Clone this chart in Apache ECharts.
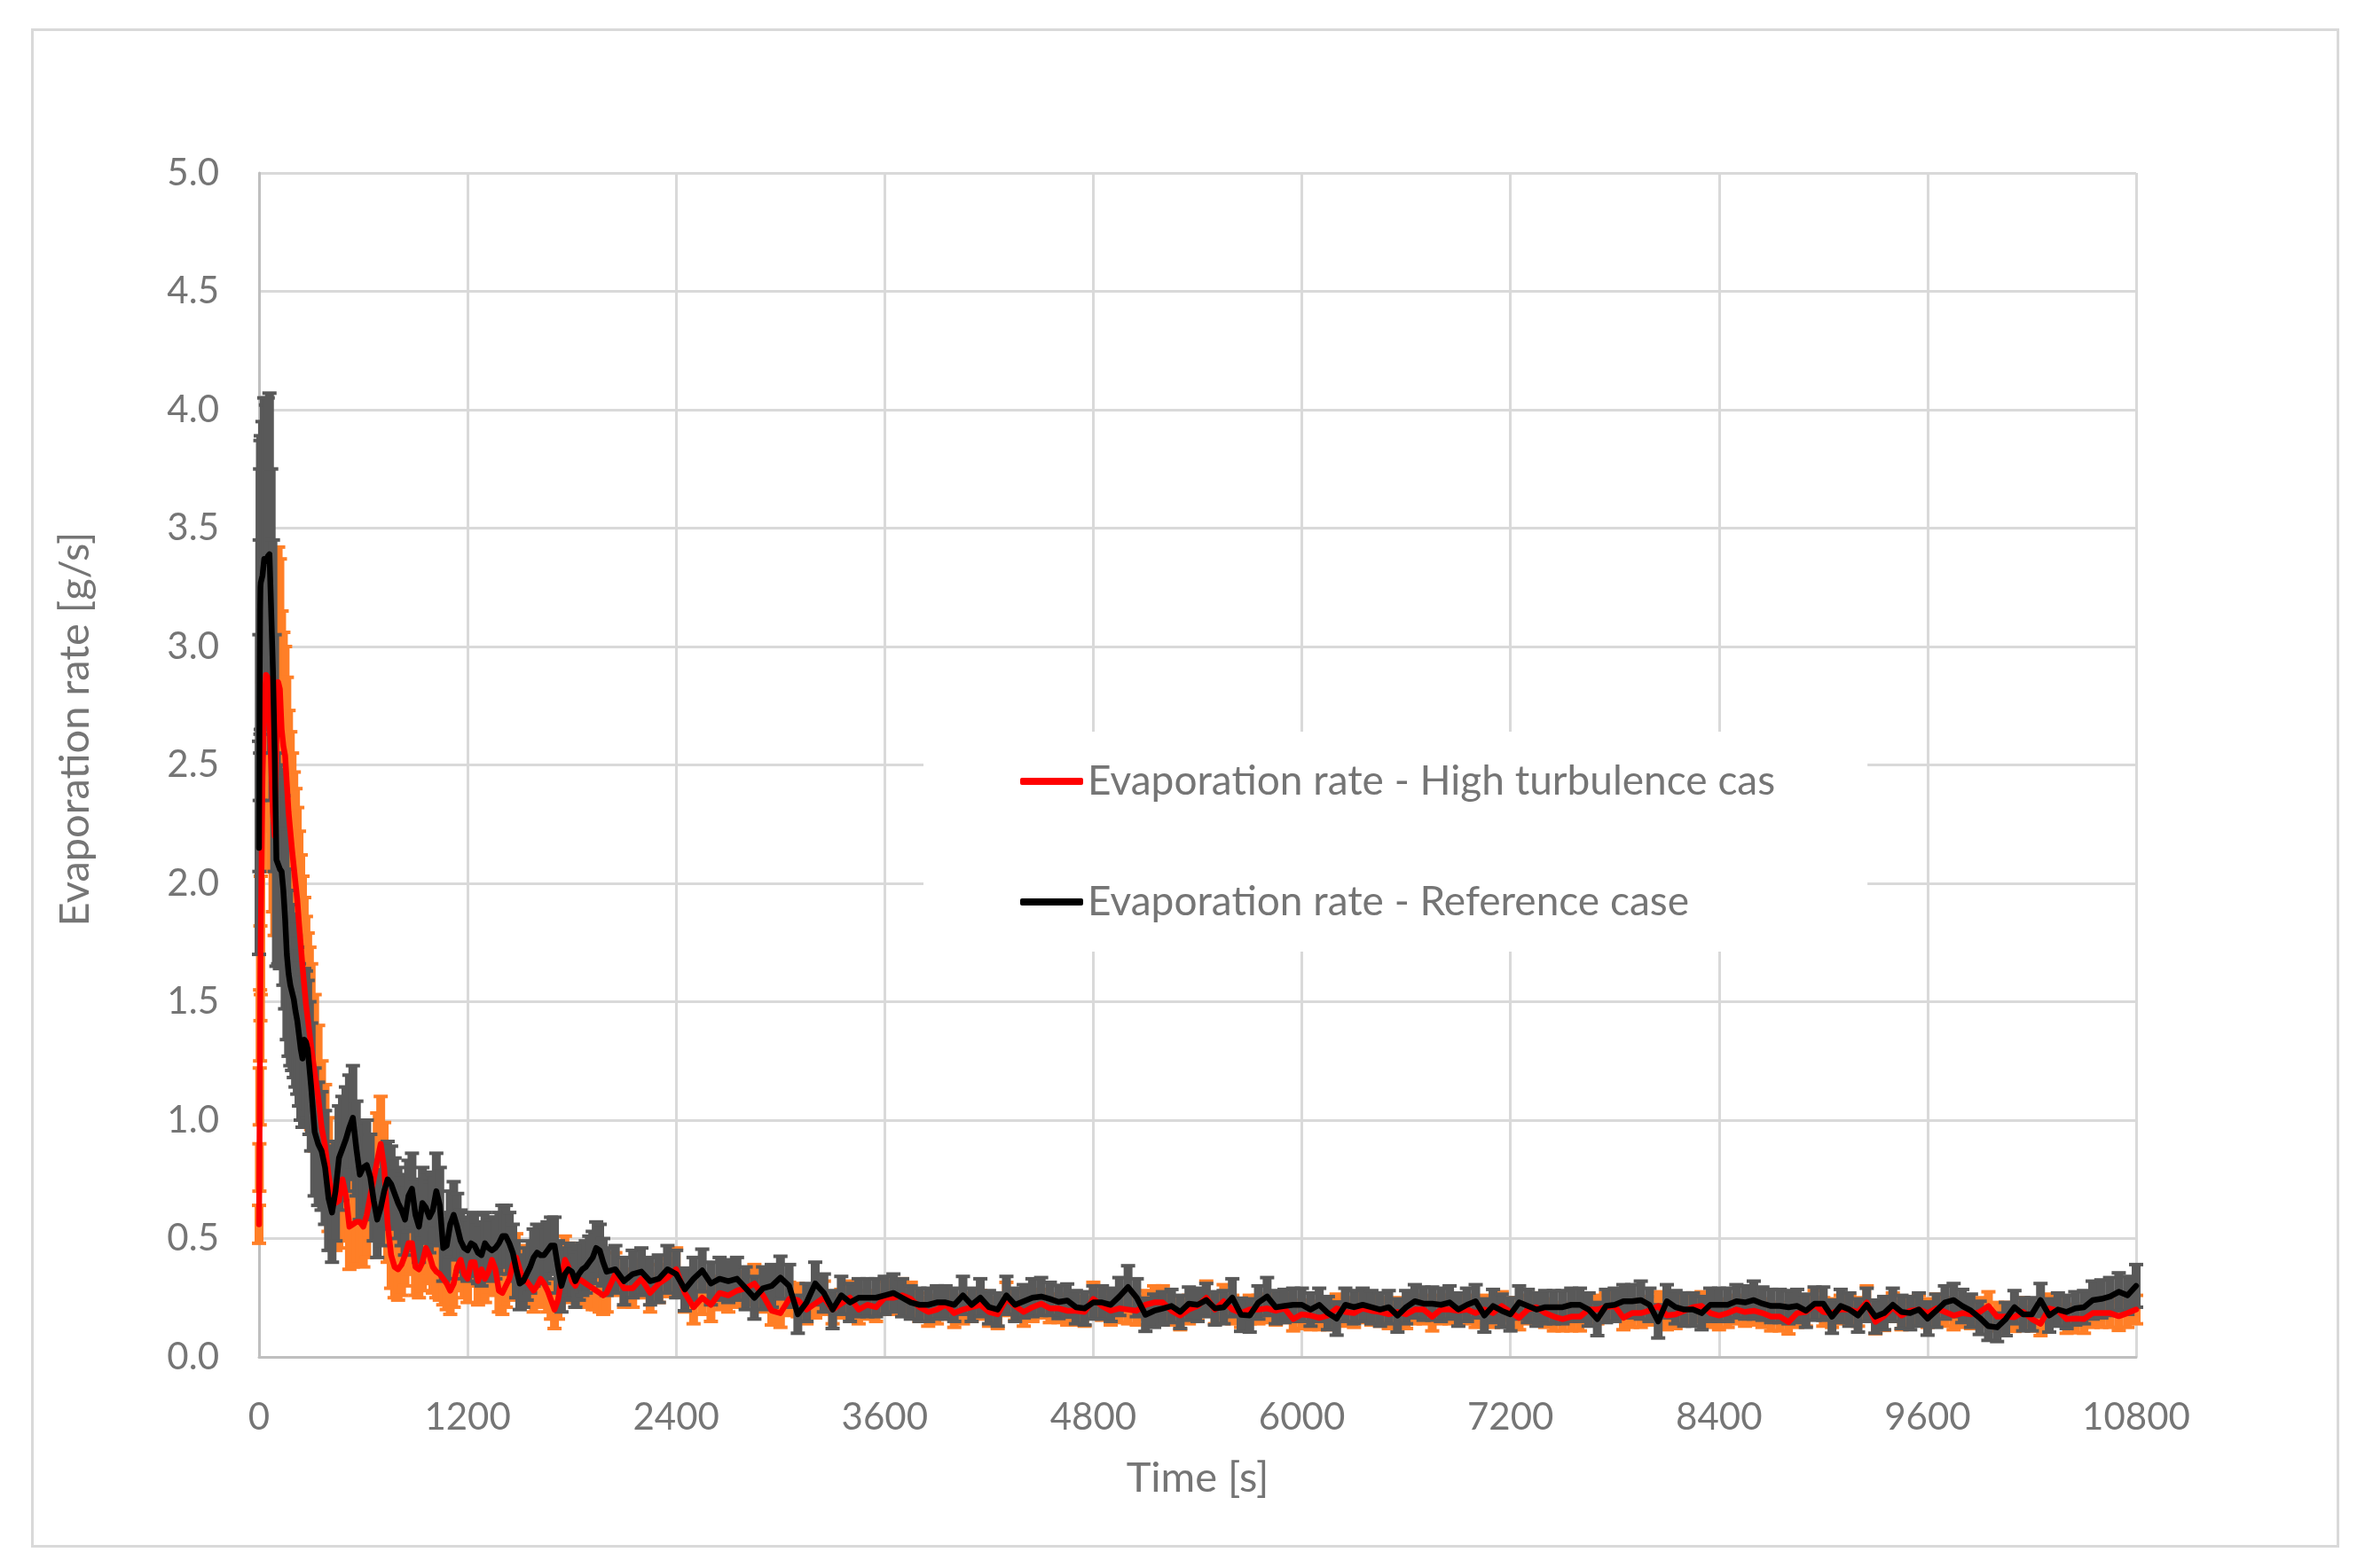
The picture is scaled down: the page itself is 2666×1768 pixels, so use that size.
<!DOCTYPE html>
<html>
<head>
<meta charset="utf-8">
<script src="https://cdn.jsdelivr.net/npm/echarts@6/dist/echarts.min.js"></script>
<style>
html,body{margin:0;padding:0;background:#fff;}
#chart{width:2666px;height:1768px;}
</style>
</head>
<body>
<div id="chart"></div>
<script>
// Time stamps [s]
const times = [
0,2,4,6,8,10,20,30,40,50,60,70,80,90,100,110,120,130,140,150,160,170,180,190,200,210,220,230,240,250,260,270,280,290,300,
320,340,360,380,400,420,440,460,480,500,520,540,560,580,600,620,640,660,680,700,
720,740,760,780,800,820,840,860,880,900,920,940,960,980,1000,1020,1040,1060,1080,1100,
1120,1140,1160,1180,1200,1220,1240,1260,1280,1300,1320,1340,1360,1380,1400,1420,1440,1460,1480,1500,
1520,1540,1560,1580,1600,1620,1640,1660,1680,1700,1720,1740,1760,1780,1800,1820,1840,1860,1880,1900,
1920,1940,1960,1980,2000,
2050,2100,2150,2200,2250,2300,2350,2400,2450,2500,2550,2600,2650,2700,2750,2800,2850,2900,2950,3000,
3050,3100,3150,3200,3250,3300,3350,3400,3450,3500,3550,3600,3650,3700,3750,3800,3850,3900,3950,4000,
4050,4100,4150,4200,4250,4300,4350,4400,4450,4500,4550,4600,4650,4700,4750,4800,4850,4900,4950,5000,
5050,5100,5150,5200,5250,5300,5350,5400,5450,5500,5550,5600,5650,5700,5750,5800,5850,5900,5950,6000,
6050,6100,6150,6200,6250,6300,6350,6400,6450,6500,6550,6600,6650,6700,6750,6800,6850,6900,6950,7000,
7050,7100,7150,7200,7250,7300,7350,7400,7450,7500,7550,7600,7650,7700,7750,7800,7850,7900,7950,8000,
8050,8100,8150,8200,8250,8300,8350,8400,8450,8500,8550,8600,8650,8700,8750,8800,8850,8900,8950,9000,
9050,9100,9150,9200,9250,9300,9350,9400,9450,9500,9550,9600,9650,9700,9750,9800,9850,9900,9950,10000,
10050,10100,10150,10200,10250,10300,10350,10400,10450,10500,10550,10600,10650,10700,10750,10800
];

// Evaporation rate - High turbulence case [g/s]
const highRate = [
0.56,0.80,1.10,1.40,1.62,1.78,2.45,2.75,2.88,2.87,2.70,2.50,2.30,2.20,2.60,2.85,2.82,2.65,2.58,2.54,2.42,2.30,2.22,2.14,2.07,2.00,1.93,1.83,1.74,1.65,1.57,1.49,1.43,1.37,1.31,
1.20,1.10,0.97,0.89,0.77,0.68,0.65,0.66,0.75,0.68,
0.55,0.56,0.57,0.57,0.55,0.60,0.68,0.75,0.83,0.90,
0.80,0.56,0.43,0.38,0.37,0.39,0.43,0.48,0.48,0.38,
0.37,0.40,0.46,0.43,0.38,0.36,0.35,0.33,0.31,0.28,
0.31,0.38,0.41,0.35,0.33,0.40,0.40,0.32,0.37,0.33,
0.36,0.41,0.37,0.28,0.27,0.30,0.33,0.39,0.42,0.37,
0.32,0.32,0.30,0.28,0.30,0.33,0.31,0.28,0.24,0.20,
0.24,0.33,0.41,0.38,0.32,0.30,0.33,0.32,0.31,0.30,
0.29,0.28,0.27,0.26,0.27,
0.35,0.29,0.29,0.33,0.27,0.31,0.335,0.37,0.27,0.21,
0.25,0.22,0.27,0.26,0.28,0.29,0.31,0.26,0.195,0.185,
0.245,0.24,0.20,0.225,0.25,0.20,0.225,0.25,0.20,0.22,
0.21,0.25,0.25,0.26,0.245,0.21,0.19,0.20,0.22,0.185,
0.20,0.21,0.22,0.19,0.18,0.245,0.215,0.19,0.21,0.225,
0.205,0.205,0.195,0.195,0.19,0.245,0.215,0.195,0.205,0.20,
0.195,0.22,0.23,0.23,0.195,0.175,0.20,0.215,0.25,0.20,
0.235,0.20,0.185,0.20,0.20,0.205,0.195,0.205,0.16,0.18,
0.175,0.165,0.175,0.205,0.19,0.185,0.205,0.195,0.19,0.18,
0.19,0.18,0.20,0.20,0.17,0.20,0.20,0.195,0.20,0.185,
0.20,0.185,0.215,0.19,0.165,0.20,0.21,0.185,0.17,0.16,
0.17,0.17,0.20,0.20,0.21,0.215,0.165,0.185,0.185,0.195,
0.215,0.175,0.18,0.195,0.21,0.215,0.185,0.175,0.185,0.20,
0.19,0.195,0.185,0.17,0.17,0.147,0.185,0.19,0.22,0.19,
0.185,0.20,0.20,0.19,0.23,0.148,0.172,0.21,0.175,0.195,
0.20,0.185,0.205,0.19,0.175,0.185,0.18,0.19,0.215,0.17,
0.17,0.168,0.19,0.16,0.14,0.205,0.195,0.16,0.162,0.16,
0.185,0.185,0.185,0.172,0.185,0.20
];
const highErr = [
0.08,0.10,0.12,0.15,0.20,0.25,0.40,0.48,0.50,0.50,0.48,0.45,0.42,0.42,0.50,0.57,0.55,0.50,0.48,0.46,0.45,0.43,0.42,0.41,0.40,0.40,0.39,0.39,0.38,0.38,0.37,0.37,0.36,0.36,0.35,
0.33,0.30,0.28,0.26,0.24,0.22,0.20,0.20,0.20,0.19,
0.18,0.18,0.18,0.18,0.17,0.18,0.18,0.19,0.20,0.20,
0.19,0.16,0.14,0.13,0.13,0.13,0.13,0.13,0.13,0.12,
0.12,0.12,0.12,0.12,0.11,0.11,0.11,0.11,0.11,0.10,
0.10,0.10,0.10,0.10,0.10,0.10,0.10,0.10,0.10,0.10,
0.10,0.10,0.10,0.09,0.09,0.09,0.09,0.10,0.10,0.10,
0.09,0.09,0.09,0.09,0.09,0.09,0.09,0.09,0.08,0.08,
0.08,0.09,0.10,0.10,0.09,0.09,0.09,0.09,0.09,0.09,
0.09,0.08,0.08,0.08,0.08,
0.09,0.08,0.08,0.08,0.08,0.08,0.08,0.09,0.08,0.07,
0.07,0.07,0.07,0.07,0.07,0.07,0.08,0.07,0.06,0.06,
0.07,0.07,0.06,0.06,0.07,0.06,0.06,0.07,0.06,0.06,
0.06,0.07,0.07,0.07,0.07,0.06,0.06,0.06,0.06,0.06,
0.06,0.06,0.06,0.06,0.06,0.07,0.06,0.06,0.06,0.06,
0.06,0.06,0.06,0.06,0.06,0.07,0.06,0.06,0.06,0.06,
0.06,0.06,0.07,0.07,0.06,0.06,0.06,0.06,0.07,0.06,
0.07,0.06,0.06,0.06,0.06,0.06,0.06,0.06,0.05,0.06,
0.06,0.05,0.06,0.06,0.06,0.06,0.06,0.06,0.06,0.06,
0.06,0.06,0.06,0.06,0.06,0.06,0.06,0.06,0.06,0.06,
0.06,0.06,0.06,0.06,0.05,0.06,0.06,0.06,0.06,0.05,
0.06,0.06,0.06,0.06,0.06,0.06,0.05,0.06,0.06,0.06,
0.06,0.06,0.06,0.06,0.06,0.06,0.06,0.06,0.06,0.06,
0.06,0.06,0.06,0.06,0.06,0.05,0.06,0.06,0.06,0.06,
0.06,0.06,0.06,0.06,0.07,0.05,0.06,0.06,0.06,0.06,
0.06,0.06,0.06,0.06,0.06,0.06,0.06,0.06,0.06,0.06,
0.06,0.06,0.06,0.05,0.05,0.06,0.06,0.06,0.06,0.06,
0.06,0.06,0.06,0.06,0.06,0.06
];

// Evaporation rate - Reference case [g/s]
const refRate = [
2.15,2.55,2.90,3.15,3.25,3.27,3.30,3.37,3.36,3.38,3.39,3.15,2.90,2.55,2.10,2.08,2.06,2.05,1.97,1.85,1.70,1.62,1.57,1.54,1.51,1.46,1.42,1.36,1.30,1.26,1.34,1.33,1.30,1.22,1.14,
0.95,0.90,0.87,0.80,0.67,0.61,0.70,0.84,0.88,0.92,
0.97,1.01,0.88,0.77,0.80,0.81,0.76,0.66,0.58,0.63,
0.70,0.75,0.73,0.69,0.65,0.62,0.58,0.68,0.71,0.60,
0.55,0.65,0.63,0.59,0.62,0.70,0.64,0.46,0.47,0.56,
0.60,0.55,0.49,0.46,0.45,0.48,0.47,0.44,0.43,0.48,
0.46,0.45,0.46,0.48,0.51,0.51,0.48,0.44,0.37,0.31,
0.32,0.35,0.38,0.42,0.44,0.43,0.43,0.45,0.47,0.47,
0.38,0.30,0.35,0.37,0.36,0.32,0.35,0.37,0.38,0.40,
0.42,0.46,0.45,0.40,0.36,
0.37,0.32,0.35,0.36,0.32,0.33,0.37,0.35,0.285,0.33,
0.365,0.31,0.33,0.32,0.33,0.29,0.25,0.29,0.30,0.335,
0.30,0.18,0.23,0.31,0.27,0.20,0.26,0.23,0.25,0.25,
0.25,0.26,0.27,0.25,0.23,0.22,0.22,0.23,0.23,0.22,
0.26,0.22,0.25,0.21,0.20,0.26,0.22,0.235,0.25,0.255,
0.245,0.232,0.238,0.21,0.205,0.23,0.23,0.22,0.255,0.295,
0.25,0.178,0.195,0.205,0.215,0.19,0.225,0.22,0.24,0.205,
0.21,0.25,0.178,0.175,0.23,0.255,0.21,0.215,0.22,0.22,
0.20,0.22,0.185,0.162,0.22,0.21,0.22,0.21,0.20,0.21,
0.175,0.21,0.235,0.225,0.225,0.22,0.23,0.20,0.22,0.235,
0.175,0.215,0.195,0.18,0.23,0.215,0.20,0.21,0.21,0.21,
0.22,0.22,0.20,0.16,0.215,0.22,0.235,0.235,0.24,0.22,
0.15,0.235,0.21,0.20,0.20,0.185,0.22,0.22,0.22,0.235,
0.23,0.24,0.225,0.215,0.215,0.21,0.215,0.195,0.225,0.225,
0.17,0.215,0.20,0.175,0.22,0.17,0.185,0.22,0.19,0.185,
0.20,0.162,0.195,0.23,0.24,0.215,0.195,0.165,0.13,0.125,
0.16,0.21,0.18,0.18,0.24,0.175,0.20,0.19,0.205,0.21,
0.24,0.245,0.255,0.275,0.26,0.30
];
const refErr = [
0.45,0.50,0.55,0.60,0.62,0.62,0.65,0.68,0.66,0.67,0.68,0.60,0.55,0.50,0.45,0.42,0.42,0.40,0.40,0.38,0.36,0.35,0.34,0.33,0.33,0.32,0.31,0.30,0.30,0.29,0.30,0.30,0.29,0.28,0.27,
0.27,0.26,0.25,0.24,0.22,0.21,0.21,0.22,0.22,0.22,
0.22,0.22,0.20,0.19,0.19,0.19,0.18,0.17,0.16,0.16,
0.16,0.16,0.16,0.15,0.15,0.15,0.15,0.15,0.15,0.15,
0.15,0.15,0.15,0.15,0.15,0.16,0.16,0.14,0.14,0.14,
0.14,0.14,0.13,0.13,0.13,0.13,0.13,0.13,0.13,0.13,
0.13,0.13,0.13,0.13,0.13,0.13,0.13,0.12,0.12,0.11,
0.11,0.11,0.11,0.12,0.12,0.12,0.12,0.12,0.12,0.12,
0.11,0.11,0.11,0.11,0.11,0.11,0.11,0.11,0.11,0.11,
0.11,0.11,0.11,0.10,0.10,
0.10,0.10,0.10,0.10,0.10,0.10,0.10,0.10,0.09,0.09,
0.09,0.09,0.09,0.09,0.09,0.09,0.09,0.09,0.09,0.09,
0.09,0.08,0.08,0.09,0.08,0.08,0.08,0.08,0.08,0.08,
0.08,0.08,0.08,0.08,0.07,0.07,0.07,0.07,0.07,0.07,
0.08,0.07,0.08,0.07,0.07,0.08,0.07,0.07,0.08,0.08,
0.07,0.07,0.07,0.07,0.07,0.07,0.07,0.07,0.08,0.09,
0.08,0.07,0.07,0.07,0.07,0.07,0.07,0.07,0.07,0.07,
0.07,0.08,0.07,0.07,0.07,0.08,0.07,0.07,0.07,0.07,
0.07,0.07,0.07,0.07,0.07,0.07,0.07,0.07,0.07,0.07,
0.07,0.07,0.07,0.07,0.07,0.07,0.07,0.07,0.07,0.07,
0.07,0.07,0.07,0.07,0.07,0.07,0.07,0.07,0.07,0.07,
0.07,0.07,0.07,0.07,0.07,0.07,0.07,0.07,0.08,0.07,
0.07,0.07,0.07,0.07,0.07,0.07,0.07,0.07,0.07,0.07,
0.07,0.08,0.07,0.07,0.07,0.07,0.07,0.07,0.07,0.07,
0.07,0.07,0.07,0.07,0.07,0.07,0.07,0.07,0.07,0.07,
0.07,0.07,0.07,0.07,0.07,0.07,0.07,0.07,0.06,0.06,
0.07,0.07,0.07,0.07,0.07,0.07,0.07,0.07,0.07,0.07,
0.08,0.08,0.08,0.08,0.08,0.09
];

const seriesNames = ['Evaporation rate - High turbulence cas', 'Evaporation rate - Reference case'];
const xTitle = 'Time [s]';
const yTitle = 'Evaporation rate [g/s]';

const FONT = 'Lato';
const TXT = '#757575';

function lineData(vals) { return times.map((t, i) => [t, vals[i]]); }
function barData(vals, errs) { return times.map((t, i) => [t, vals[i] - errs[i], vals[i] + errs[i]]); }

function errorBars(color) {
  return function (params, api) {
    const x = api.value(0);
    const lo = api.coord([x, api.value(1)]);
    const hi = api.coord([x, api.value(2)]);
    const half = 8;
    return {
      type: 'group',
      children: [
        { type: 'line', shape: { x1: hi[0], y1: hi[1], x2: lo[0], y2: lo[1] }, style: { stroke: color, lineWidth: 10 } },
        { type: 'line', shape: { x1: hi[0] - half, y1: hi[1], x2: hi[0] + half, y2: hi[1] }, style: { stroke: color, lineWidth: 4 } },
        { type: 'line', shape: { x1: lo[0] - half, y1: lo[1], x2: lo[0] + half, y2: lo[1] }, style: { stroke: color, lineWidth: 4 } }
      ]
    };
  };
}

const chart = echarts.init(document.getElementById('chart'), null, { renderer: 'canvas' });
chart.setOption({
  animation: false,
  backgroundColor: '#ffffff',
  grid: { left: 292, right: 258, top: 195, bottom: 238, containLabel: false },
  graphic: [
    { type: 'rect', left: 34, top: 31, shape: { width: 2599, height: 1710 }, style: { fill: 'none', stroke: '#d9d9d9', lineWidth: 3 }, silent: true, z: -1 },
    { type: 'text', x: 85, y: 822, rotation: Math.PI / 2, style: { text: yTitle, fontSize: 47, fontFamily: FONT, fill: TXT, align: 'center', verticalAlign: 'middle' } },
    { type: 'text', x: 1350, y: 1667, style: { text: xTitle, fontSize: 47, fontFamily: FONT, fill: TXT, align: 'center', verticalAlign: 'middle' } }
  ],
  legend: {
    data: seriesNames,
    orient: 'vertical',
    left: 1041,
    top: 825,
    padding: [31, 104, 31, 109],
    backgroundColor: '#ffffff',
    itemGap: 86,
    itemWidth: 71,
    itemHeight: 8,
    icon: 'roundRect',
    textStyle: { fontSize: 46, lineHeight: 50, fontFamily: FONT, color: TXT },
    selectedMode: false
  },
  xAxis: {
    type: 'value',
    min: 0, max: 10800, interval: 1200,
    axisLine: { show: true, lineStyle: { color: '#bfbfbf', width: 3 } },
    axisTick: { show: false },
    axisLabel: { fontSize: 42, lineHeight: 42, fontFamily: FONT, color: TXT, margin: 47, formatter: v => String(v) },
    splitLine: { show: true, lineStyle: { color: '#d9d9d9', width: 3 } }
  },
  yAxis: {
    type: 'value',
    min: 0, max: 5, interval: 0.5,
    axisLine: { show: true, lineStyle: { color: '#bfbfbf', width: 3 } },
    axisTick: { show: false },
    axisLabel: { fontSize: 42, fontFamily: FONT, color: TXT, margin: 45, formatter: v => v.toFixed(1) },
    splitLine: { show: true, lineStyle: { color: '#d9d9d9', width: 3 } }
  },
  series: [
    { name: seriesNames[0] + ' error', type: 'custom', renderItem: errorBars('#ff7f27'), data: barData(highRate, highErr), encode: { x: 0, y: [1, 2] }, silent: true, z: 2 },
    { name: seriesNames[1] + ' error', type: 'custom', renderItem: errorBars('#595959'), data: barData(refRate, refErr), encode: { x: 0, y: [1, 2] }, silent: true, z: 3 },
    { name: seriesNames[0], type: 'line', data: lineData(highRate), showSymbol: false, symbol: 'none', color: '#ff0000', lineStyle: { color: '#ff0000', width: 6.5, join: 'round', cap: 'round' }, z: 4 },
    { name: seriesNames[1], type: 'line', data: lineData(refRate), showSymbol: false, symbol: 'none', color: '#000000', lineStyle: { color: '#000000', width: 6.5, join: 'round', cap: 'round' }, z: 5 }
  ]
});
</script>
</body>
</html>
